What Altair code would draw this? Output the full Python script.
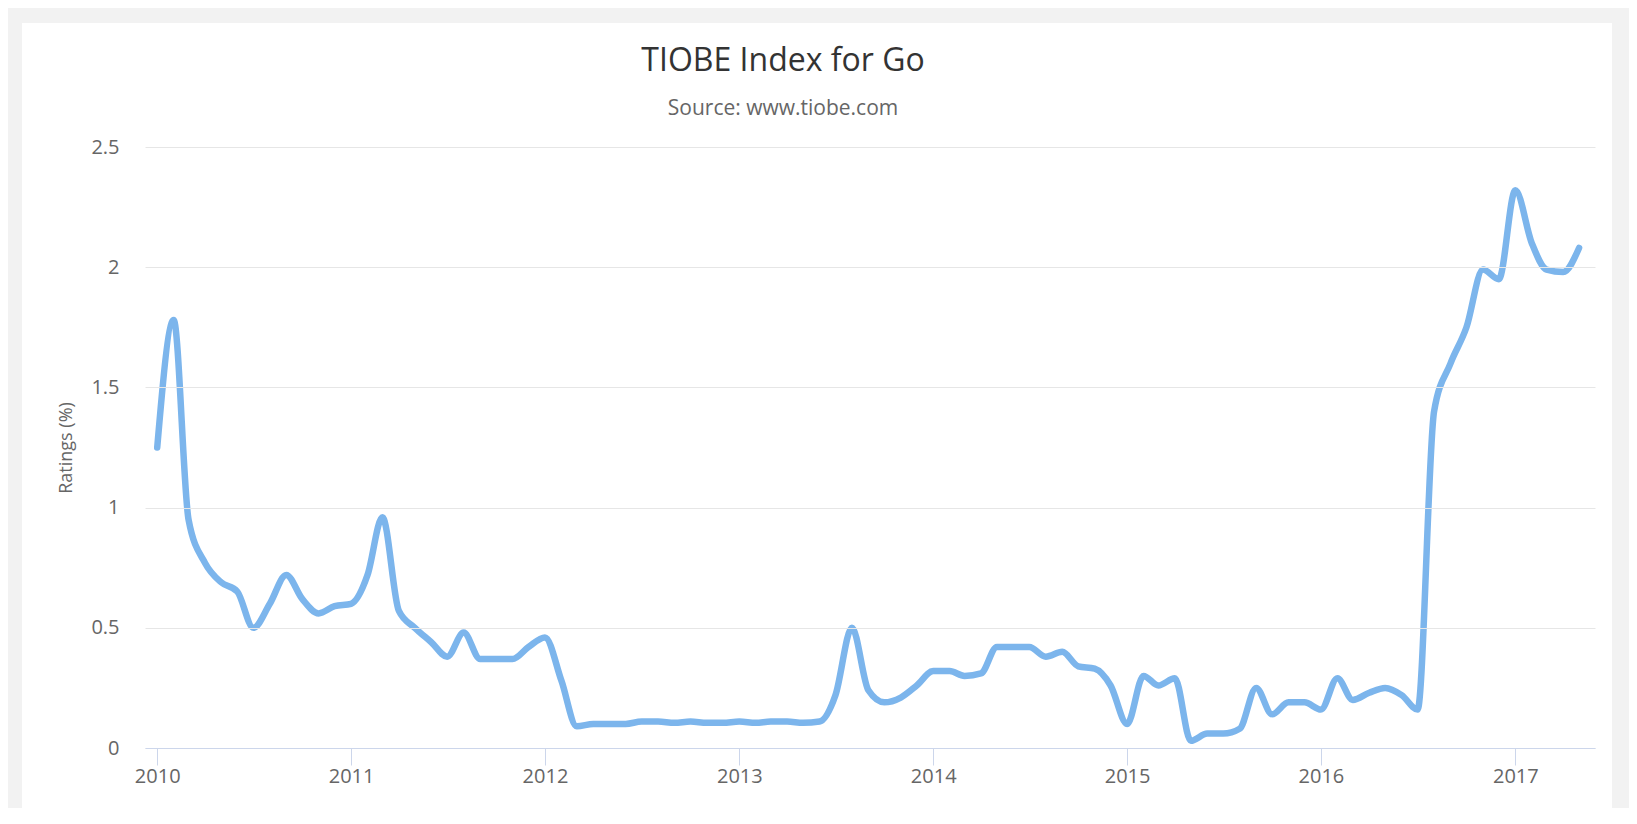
import altair as alt
import pandas as pd

# ---- data (monthly TIOBE ratings, %) ----
years = [2010, 2011, 2012, 2013, 2014, 2015, 2016, 2017]
v2010 = [1.25, 1.78, 0.95, 0.77, 0.69, 0.65, 0.50, 0.60, 0.72, 0.62, 0.56, 0.59]
v2011 = [0.60, 0.72, 0.96, 0.57, 0.50, 0.44, 0.38, 0.48, 0.37, 0.37, 0.37, 0.42]
v2012 = [0.46, 0.28, 0.09, 0.10, 0.10, 0.10, 0.11, 0.11, 0.105, 0.11, 0.105, 0.105]
v2013 = [0.11, 0.105, 0.11, 0.11, 0.105, 0.11, 0.22, 0.50, 0.24, 0.19, 0.21, 0.26]
v2014 = [0.32, 0.32, 0.30, 0.31, 0.42, 0.42, 0.42, 0.38, 0.40, 0.34, 0.33, 0.26]
v2015 = [0.10, 0.30, 0.26, 0.29, 0.03, 0.06, 0.06, 0.08, 0.25, 0.14, 0.19, 0.19]
v2016 = [0.16, 0.29, 0.20, 0.23, 0.25, 0.22, 0.16, 1.40, 1.60, 1.75, 1.99, 1.95]
v2017 = [2.32, 2.10, 1.99, 1.98, 2.08]
y_ticks = [0, 0.5, 1, 1.5, 2, 2.5]

series = [v2010, v2011, v2012, v2013, v2014, v2015, v2016, v2017]
rows = []
for yr, vals in zip(years, series):
    for i, v in enumerate(vals):
        rows.append({"date": f"{yr}-{i + 1:02d}-01T00:00:00", "rating": v})
df = pd.DataFrame(rows)

FONT = "Open Sans"
W, H = 1450, 601

panel = alt.Chart(alt.Data(values=[{}])).mark_rect(fill="white").encode(
    x=alt.value(-123), x2=alt.value(1467), y=alt.value(-124), y2=alt.value(666)
)

line = alt.Chart(df).mark_line(
    color="#7cb5ec", strokeWidth=6.5, interpolate="monotone",
    strokeCap="round", strokeJoin="round"
).encode(
    x=alt.X(
        "date:T",
        title=None,
        scale=alt.Scale(domain=[alt.DateTime(year=2009, month=12, date=9),
                                alt.DateTime(year=2017, month=5, date=31)]),
        axis=alt.Axis(
            values=[alt.DateTime(year=y, month=1, date=1) for y in years],
            format="%Y", grid=False, domainColor="#ccd6eb", domainWidth=1,
            tickColor="#ccd6eb", tickSize=17, tickWidth=1,
            labelFontSize=20, labelColor="#666666", labelFont=FONT,
            labelPadding=1, labelFlush=False, zindex=1,
        ),
    ),
    y=alt.Y(
        "rating:Q",
        scale=alt.Scale(domain=[0, 2.5], nice=False),
        axis=alt.Axis(
            values=y_ticks, format="~g", grid=True, gridColor="#e6e6e6",
            gridWidth=1, domain=False, ticks=False, tickSize=0,
            labelFontSize=20, labelColor="#666666", labelFont=FONT,
            labelPadding=26, title="Ratings (%)", titleFontSize=18,
            titleColor="#666666", titleFont=FONT, titleFontWeight="normal",
            titleX=-70, titleY=H / 2, zindex=1,
        ),
    ),
)

chart = alt.layer(panel, line).properties(
    width=W, height=H,
    padding={"left": 137, "top": 139, "right": 34, "bottom": 60},
    autosize=alt.AutoSizeParams(type="none"),
    background="#f2f2f2",
    title=alt.TitleParams(
        text="TIOBE Index for Go",
        subtitle="Source: www.tiobe.com",
        font=FONT, fontSize=32, fontWeight="normal", color="#333333",
        subtitleFont=FONT, subtitleFontSize=21, subtitleColor="#666666",
        subtitlePadding=20, anchor="middle", dx=-87, offset=-97, zindex=1,
    ),
).configure_view(strokeWidth=0).configure(font=FONT)

chart.save("out.html", embed_options={"renderer": "svg", "actions": False})
